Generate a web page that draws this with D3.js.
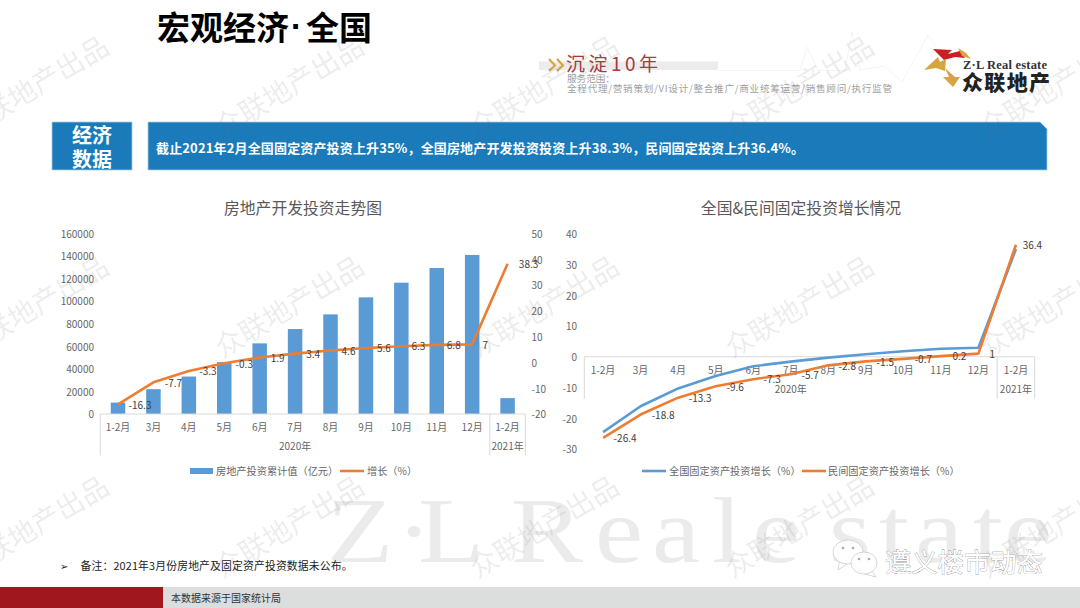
<!DOCTYPE html>
<html><head><meta charset="utf-8">
<script src="https://cdn.jsdelivr.net/npm/d3@7/dist/d3.min.js"></script>
<style>html,body{margin:0;padding:0;background:#fff;overflow:hidden}svg{display:block}
text{font-family:"Noto Sans CJK SC","Noto Sans",sans-serif}</style></head><body>
<svg id="c" width="1080" height="608"></svg>
<script>
const months = ["1-2月","3月","4月","5月","6月","7月","8月","9月","10月","11月","12月","1-2月"];
const years = ["2020年","2021年"];
const investment = [10100,22000,33200,46000,62600,75300,88300,103400,116400,129400,141000,14100];
const investGrowth = [-16.3,-7.7,-3.3,-0.3,1.9,3.4,4.6,5.6,6.3,6.8,7,38.3];
const nationalGrowth = [-24.5,-16.1,-10.3,-6.3,-3.1,-1.6,-0.3,0.8,1.8,2.6,2.9,35];
const privateGrowth = [-26.4,-18.8,-13.3,-9.6,-7.3,-5.7,-2.8,-1.5,-0.7,0.2,1,36.4];
const leftTicks = [0,20000,40000,60000,80000,100000,120000,140000,160000];
const rightTicks = [-20,-10,0,10,20,30,40,50];
const lineTicks = [-30,-20,-10,0,10,20,30,40];
const watermarkX = [33,288,543,798,1053];
const watermarkY = [85,305,525];

const BLUE="#5b9bd5", ORANGE="#ed7d31", GREY="#666", AXIS="#d9d9d9", BANNER="#1a7aba";
const svg=d3.select("#c");
const txt=(g,x,y,s,o={})=>g.append("text").attr("x",x).attr("y",y-0.2).text(s)
  .attr("text-anchor",o.a||"middle").attr("dominant-baseline","central")
  .attr("font-size",o.f||10).attr("fill",o.c||GREY).attr("font-weight",o.w||400);

// big background word mark
const markLetters="Z·LRealestate";
const markX=[327,396,418,511,595,652,712,752,829,879,915,973,1004];
svg.append("text").attr("transform","scale(1.15,1)").attr("x",markX.map(v=>v/1.15).join(" ")).attr("y",562).text(markLetters)
  .style("font-family","'Liberation Serif',serif").attr("font-size",94).attr("fill","#ebebeb");

// header
const head=txt(svg,157,26.5,"宏观经济",{a:"start",f:33,c:"#000",w:700});
head.append("tspan").attr("dx",2).style("font-family","'Liberation Sans',sans-serif").text("·");
head.append("tspan").attr("dx",4).text("全国");

// slogan
svg.append("rect").attr("x",539).attr("y",61.5).attr("width",179).attr("height",8.5).attr("fill","#ececec");
svg.append("path").attr("d","M718 70.5H800L807 47L818 70.5H845L852 32L860 70L885 66L902 82L928 35L945 60").attr("fill","none").attr("stroke","#efefef").attr("stroke-width",.7);
svg.append("path").attr("d","M549 59L555 65.5L549 71M557 59L563 65.5L557 71").attr("fill","none").attr("stroke","#d9a441").attr("stroke-width",2.2);
txt(svg,566,62.5,"沉淀10年",{a:"start",f:19,c:"#a8393c"}).attr("textLength",92);
txt(svg,567,78,"服务范围：",{a:"start",f:9.6,c:"#a0a0a0"});
txt(svg,567,88.5,"全程代理/营销策划/VI设计/整合推广/商业统筹运营/销售顾问/执行监管",{a:"start",f:9.6,c:"#a0a0a0"}).attr("textLength",325);

// logo
svg.append("path").attr("d","M933 49L952 50L948 54L960 51L965 58L955 57L944 60Z").attr("fill","#cc1f24");
svg.append("path").attr("d","M958 48L966 53L971 59L962 56Z").attr("fill","#d6a540");
svg.append("path").attr("d","M924 70L938 57L940 62L946 59L945 71L936 68Z").attr("fill","#d6a540");
svg.append("path").attr("d","M945 68L955 77L960 77L953 87L943 77L949 77Z").attr("fill","#d6a540");
svg.append("text").attr("x",963).attr("y",69).text("Z·L Real estate").style("font-family","'Liberation Serif',serif").attr("font-size",12.5).attr("font-weight",700).attr("fill","#333").attr("textLength",84);
txt(svg,1006,81,"众联地产",{f:21,c:"#222",w:900}).attr("textLength",88);

// banner
svg.append("rect").attr("x",52).attr("y",122).attr("width",80).attr("height",48).attr("fill",BANNER).attr("stroke","#a9cbe4").attr("stroke-width",.8);
txt(svg,92,134.5,"经济",{f:20,c:"#fff",w:700});
txt(svg,92,158.5,"数据",{f:20,c:"#fff",w:700});
svg.append("path").attr("d","M148 122H1040L1047 129V170H148Z").attr("fill",BANNER).attr("stroke","#a9cbe4").attr("stroke-width",.8);
txt(svg,156,148,"截止2021年2月全国固定资产投资上升35%，全国房地产开发投资投资上升38.3%，民间固定投资上升36.4%。",{a:"start",f:13,c:"#fff",w:700}).attr("textLength",648);

// footer
svg.append("rect").attr("x",0).attr("y",587).attr("width",1080).attr("height",21).attr("fill","#dcdddd");
svg.append("rect").attr("x",0).attr("y",587).attr("width",163).attr("height",21).attr("fill","#a0181e");
txt(svg,171,598,"本数据来源于国家统计局",{a:"start",f:10,c:"#333"});
txt(svg,64,565.5,"➢",{f:10,c:"#222"});
txt(svg,80.5,565.5,"备注：2021年3月份房地产及固定资产投资数据未公布。",{a:"start",f:10.8,c:"#222"}).attr("textLength",272);

// shared multi-level category axis
function catAxis(g,x,baseY,bottom,labelY,yearY,x0,x1){
  const step=x.step();
  g.append("line").attr("x1",x0).attr("x2",x1).attr("y1",baseY).attr("y2",baseY).attr("stroke",AXIS);
  [x0,x(11),x1].forEach(v=>g.append("line").attr("x1",v).attr("x2",v).attr("y1",baseY).attr("y2",bottom).attr("stroke",AXIS));
  months.forEach((m,i)=>txt(g,x(i)+step/2,labelY,m,{f:10}));
  txt(g,(x0+x(11))/2,yearY,years[0],{f:10});
  txt(g,(x(11)+x1)/2,yearY,years[1],{f:10});
}
const idx=d3.range(12);

// left chart
const L=svg.append("g");
txt(L,303,207.5,"房地产开发投资走势图",{f:15.8,c:"#595959"});
const lx=d3.scaleBand().domain(idx).range([100.3,525.3]);
const ly=d3.scaleLinear().domain([0,160000]).range([414,233.5]);
const ry=d3.scaleLinear().domain([-20,50]).range([414,233.5]);
const lc=i=>lx(i)+lx.step()/2;
const barW=14.5;
L.selectAll("rect.b").data(investment).join("rect").attr("class","b")
  .attr("x",(d,i)=>lc(i)-barW/2).attr("width",barW).attr("y",d=>ly(d)).attr("height",d=>414-ly(d)).attr("fill",BLUE);
catAxis(L,lx,414,455.5,426.7,446,100.3,525.3);
leftTicks.forEach(t=>txt(L,94,ly(t),String(t),{a:"end",f:10}));
rightTicks.forEach(t=>txt(L,531.5,ry(t),String(t),{a:"start",f:10}));
const line1=d3.line().x((d,i)=>lc(i)).y(d=>ry(d));
L.append("path").attr("d",line1(investGrowth)).attr("fill","none").attr("stroke",ORANGE).attr("stroke-width",2.6).attr("stroke-linejoin","round");
const leftLabelDx=[22,20,19,20,18,18,18,18,17,17,13,21];
investGrowth.forEach((v,i)=>txt(L,lc(i)+leftLabelDx[i],ry(v),String(v),{f:10,c:"#404040"}));
L.append("rect").attr("x",190).attr("y",468).attr("width",23).attr("height",6).attr("fill",BLUE);
txt(L,216,471,"房地产投资累计值（亿元）",{a:"start",f:10.2});
L.append("line").attr("x1",340).attr("x2",364).attr("y1",471).attr("y2",471).attr("stroke",ORANGE).attr("stroke-width",2.6);
txt(L,367,471,"增长（%）",{a:"start",f:10.2});

// right chart
const R=svg.append("g");
txt(R,801,207.5,"全国&民间固定投资增长情况",{f:15.8,c:"#595959"});
const x2=d3.scaleBand().domain(idx).range([584.3,1034.7]);
const y2=d3.scaleLinear().domain([-30,40]).range([449,233.7]);
const c2=i=>x2(i)+x2.step()/2;
catAxis(R,x2,y2(0),398.7,370,389,584.3,1034.7);
lineTicks.forEach(t=>txt(R,577,y2(t),String(t),{a:"end",f:10}));
const line2=d3.line().x((d,i)=>c2(i)).y(d=>y2(d));
R.append("path").attr("d",line2(nationalGrowth)).attr("fill","none").attr("stroke",BLUE).attr("stroke-width",2.6).attr("stroke-linejoin","round");
R.append("path").attr("d",line2(privateGrowth)).attr("fill","none").attr("stroke",ORANGE).attr("stroke-width",2.6).attr("stroke-linejoin","round");
const rightLabelDx=[22,22.5,22,19.5,19,19.5,19,19.5,20,18.5,14,16.5];
privateGrowth.forEach((v,i)=>txt(R,c2(i)+rightLabelDx[i],y2(v),String(v),{f:10,c:"#404040"}));
R.append("line").attr("x1",642).attr("x2",666).attr("y1",471).attr("y2",471).attr("stroke",BLUE).attr("stroke-width",2.6);
txt(R,669,471,"全国固定资产投资增长（%）",{a:"start",f:10.2});
R.append("line").attr("x1",802).attr("x2",826).attr("y1",471).attr("y2",471).attr("stroke",ORANGE).attr("stroke-width",2.6);
txt(R,828,471,"民间固定资产投资增长（%）",{a:"start",f:10.2});

// repeated watermark
watermarkY.forEach(wy=>watermarkX.forEach(wx=>{
  svg.append("text").attr("transform",`translate(${wx},${wy}) rotate(-31)`).text("众联地产出品")
    .attr("text-anchor","middle").attr("dominant-baseline","central").attr("font-size",28)
    .attr("fill","rgba(110,110,110,0.12)");
}));

// channel mark
const W=svg.append("g");
const bubble=(cx,cy,rx,ry,tx,ty,side)=>{
  W.append("path").attr("d",`M${tx} ${ty}L${cx+side*rx*.55} ${cy+ry*.6}L${cx+side*rx*.05} ${cy+ry}Z`).attr("fill","#fff").attr("stroke","#bdbdbd").attr("stroke-width",.6);
  W.append("ellipse").attr("cx",cx).attr("cy",cy).attr("rx",rx).attr("ry",ry).attr("fill","#fff").attr("stroke","#bdbdbd").attr("stroke-width",.6);
};
bubble(848,552,15,12,838,570,-1);
bubble(864,563,13,11,876,577,1);
[[843,548],[853,548],[859,559],[869,559]].forEach(p=>W.append("circle").attr("cx",p[0]).attr("cy",p[1]).attr("r",1.3).attr("fill","#aaa"));
txt(W,885,560.5,"遵义楼市动态",{a:"start",f:26.3,c:"#fff"}).attr("stroke","#777").attr("stroke-width",.55).attr("paint-order","stroke");
</script></body></html>
